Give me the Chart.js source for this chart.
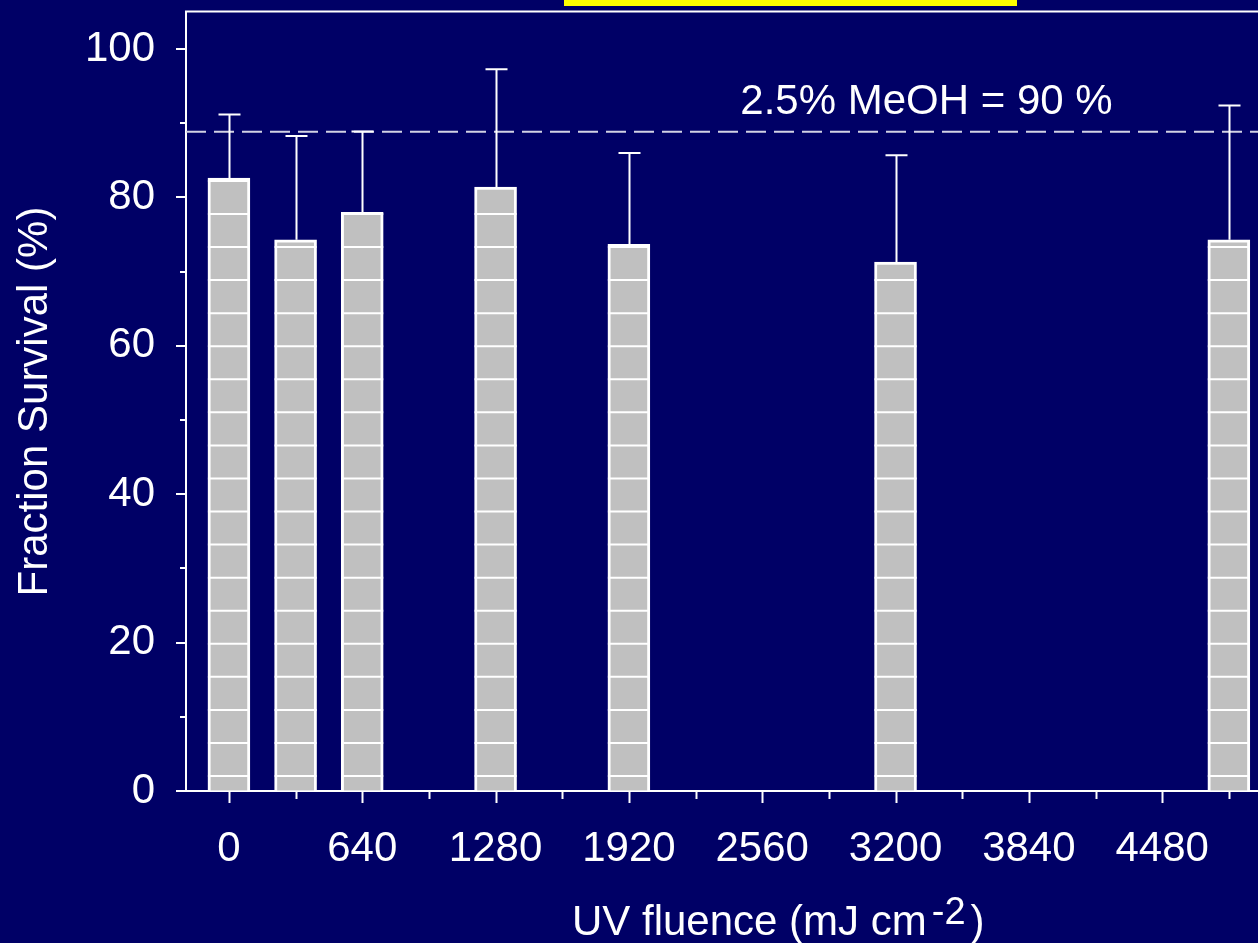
<!DOCTYPE html>
<html>
<head>
<meta charset="utf-8">
<title>Fraction Survival vs UV fluence</title>
<script src="https://cdn.jsdelivr.net/npm/chart.js@4/dist/chart.umd.min.js"></script>
<style>
  html, body { margin: 0; padding: 0; background: #000066; }
  canvas { display: block; }
</style>
</head>
<body>
<canvas id="chart" width="1258" height="943"></canvas>
<script>
// ---- data ----
const fluence = [0, 320, 640, 1280, 1920, 3200, 4800];          // mJ cm-2
const survival = [82.6, 74.3, 78.0, 81.4, 73.7, 71.3, 74.3];    // %
const survivalError = [8.6, 14.0, 10.9, 15.9, 12.3, 14.4, 18.1]; // upper error, %
const xTickLabels = ['0', '640', '1280', '1920', '2560', '3200', '3840', '4480'];
const yTickValues = [0, 20, 40, 60, 80, 100];
const methanolControl = 88.85;                 // control level (dashed line)
const methanolLabel = '2.5% MeOH = 90 %';
const xTitleMain = 'UV fluence (mJ cm';
const xTitleSup = '-2';
const xTitleEnd = ')';
const yTitle = 'Fraction Survival (%)';

// ---- styling ----
const FONT = "'Liberation Sans', Arial, Helvetica, sans-serif";
const NAVY = '#000066';
const WHITE = '#ffffff';
const X_MIN = -206, X_MAX = 4940, Y_MAX = 105;
const X_LABEL_STEP = 640, X_MINOR_STEP = 320;
const STRIPE_SPACING = 33.06;   // px between white stripes inside the bars
const STRIPE_OFFSET = 15;       // first stripe above the axis, px

// page background
const background = {
  id: 'background',
  beforeDraw(chart) {
    const { ctx, width, height } = chart;
    ctx.save();
    ctx.fillStyle = NAVY;
    ctx.fillRect(0, 0, width, height);
    ctx.restore();
  }
};

// horizontal white stripes inside each bar
const barStripes = {
  id: 'barStripes',
  afterDatasetDraw(chart, args) {
    if (args.meta.type !== 'bar') return;
    const { ctx, chartArea } = chart;
    ctx.save();
    ctx.strokeStyle = WHITE;
    ctx.lineWidth = 2;
    args.meta.data.forEach(bar => {
      const { x, y, base, width } = bar.getProps(['x', 'y', 'base', 'width'], true);
      const l = x - width / 2, r = x + width / 2;
      for (let s = chartArea.bottom - STRIPE_OFFSET; s >= y; s -= STRIPE_SPACING) {
        if (s >= base) continue;
        ctx.beginPath();
        ctx.moveTo(l, s);
        ctx.lineTo(r, s);
        ctx.stroke();
      }
    });
    ctx.restore();
  }
};

// upper error bars
const errorBars = {
  id: 'errorBars',
  afterDatasetsDraw(chart) {
    const { ctx, scales: { y } } = chart;
    const meta = chart.getDatasetMeta(0);
    ctx.save();
    ctx.strokeStyle = WHITE;
    ctx.lineWidth = 2;
    meta.data.forEach((bar, i) => {
      const { x, y: top } = bar.getProps(['x', 'y'], true);
      const cap = y.getPixelForValue(survival[i] + survivalError[i]);
      const px = Math.round(x) + 0.5;
      ctx.beginPath();
      ctx.moveTo(px, top);
      ctx.lineTo(px, cap);
      ctx.moveTo(px - 11, cap);
      ctx.lineTo(px + 11, cap);
      ctx.stroke();
    });
    ctx.restore();
  }
};

// axis tick marks (major + minor), frame, annotation and x title
const decorations = {
  id: 'decorations',
  afterDraw(chart) {
    const { ctx, chartArea: { left, right, top, bottom }, scales: { x, y } } = chart;
    ctx.save();
    ctx.strokeStyle = WHITE;
    ctx.lineWidth = 2;
    ctx.beginPath();
    for (let v = 0; v <= 100; v += 10) {
      const py = Math.round(y.getPixelForValue(v));
      const len = v % 20 === 0 ? 10 : 6;
      ctx.moveTo(left - len, py);
      ctx.lineTo(left, py);
    }
    for (let v = 0; v <= 4800; v += X_MINOR_STEP) {
      const px = Math.round(x.getPixelForValue(v)) + 0.5;
      const len = v % X_LABEL_STEP === 0 ? 12 : 8;
      ctx.moveTo(px, bottom);
      ctx.lineTo(px, bottom + len);
    }
    // top frame line
    ctx.moveTo(left - 1, top - 0.5);
    ctx.lineTo(right, top - 0.5);
    ctx.stroke();

    // yellow title bar
    ctx.fillStyle = '#ffff00';
    ctx.fillRect(564, 0, 453, 6);

    // control annotation
    ctx.fillStyle = WHITE;
    ctx.font = `42px ${FONT}`;
    ctx.textBaseline = 'alphabetic';
    ctx.textAlign = 'left';
    ctx.fillText(methanolLabel, x.getPixelForValue(2455), y.getPixelForValue(methanolControl) - 18);

    // x axis title with superscript
    const tx = 572, ty = 935;
    ctx.font = `42px ${FONT}`;
    ctx.fillText(xTitleMain, tx, ty);
    let w = ctx.measureText(xTitleMain).width + 5;
    ctx.font = `38px ${FONT}`;
    ctx.fillText(xTitleSup, tx + w, ty - 11);
    w += ctx.measureText(xTitleSup).width + 5;
    ctx.font = `42px ${FONT}`;
    ctx.fillText(xTitleEnd, tx + w, ty);
    ctx.restore();
  }
};

new Chart(document.getElementById('chart'), {
  type: 'bar',
  data: {
    datasets: [
      {
        type: 'bar',
        data: fluence.map((f, i) => ({ x: f, y: survival[i] })),
        backgroundColor: '#c0c0c0',
        borderColor: WHITE,
        borderWidth: 3,
        borderSkipped: 'start',
        barThickness: 42,
        order: 1
      },
      {
        type: 'line',
        data: [{ x: X_MIN, y: methanolControl }, { x: X_MAX, y: methanolControl }],
        borderColor: '#d2d2e4',
        borderWidth: 2,
        borderDash: [20, 8],
        pointRadius: 0,
        order: 2
      }
    ]
  },
  options: {
    responsive: false,
    animation: false,
    events: [],
    layout: { padding: { top: 12, left: 0, right: 0, bottom: 0 } },
    plugins: { legend: { display: false }, tooltip: { enabled: false } },
    scales: {
      x: {
        type: 'linear',
        min: X_MIN,
        max: X_MAX,
        offset: false,
        afterBuildTicks(scale) {
          const ticks = [];
          for (let v = 0; v <= 4800; v += X_MINOR_STEP) ticks.push({ value: v });
          scale.ticks = ticks;
        },
        ticks: {
          autoSkip: false,
          maxRotation: 0,
          minRotation: 0,
          padding: 0,
          color: WHITE,
          font: { family: FONT, size: 42 },
          callback: v => (v % X_LABEL_STEP === 0 ? xTickLabels[v / X_LABEL_STEP] : '')
        },
        grid: { display: true, offset: false, drawOnChartArea: false, drawTicks: true, tickLength: 33, tickColor: 'transparent' },
        border: { display: true, color: WHITE, width: 2 },
        afterFit(scale) {
          scale.height = 152;
          scale.paddingLeft = scale.paddingRight = scale.paddingTop = scale.paddingBottom = 0;
        }
      },
      y: {
        min: 0,
        max: Y_MAX,
        afterBuildTicks(scale) {
          scale.ticks = yTickValues.map(v => ({ value: v }));
        },
        ticks: { color: WHITE, padding: 0, font: { family: FONT, size: 42 } },
        grid: { display: true, drawOnChartArea: false, drawTicks: true, tickLength: 31, tickColor: 'transparent' },
        border: { display: true, color: WHITE, width: 2 },
        title: {
          display: true,
          text: yTitle,
          color: WHITE,
          font: { family: FONT, size: 42 },
          padding: { top: 10, bottom: 0 }
        },
        afterFit(scale) {
          scale.width = 186;
          scale.paddingLeft = scale.paddingRight = scale.paddingTop = scale.paddingBottom = 0;
        }
      }
    }
  },
  plugins: [background, barStripes, errorBars, decorations]
});
</script>
</body>
</html>
